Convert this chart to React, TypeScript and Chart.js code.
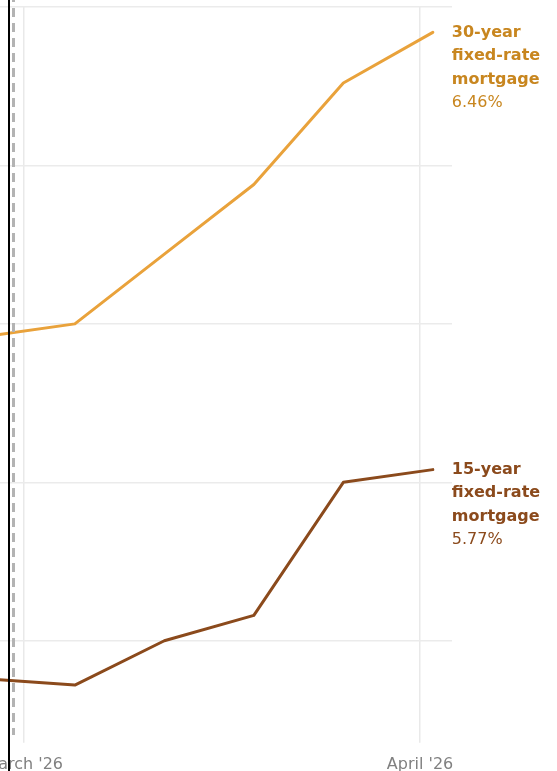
import React, { useEffect, useRef } from "react";
import { Chart, registerables } from "chart.js";

Chart.register(...registerables);

// Weekly survey dates (day number counted so that March 1 = 1)
const weekLabels = ["Feb 26", "Mar 5", "Mar 12", "Mar 19", "Mar 26", "Apr 2"];
const weekDay = [-2, 5, 12, 19, 26, 33];
const rate30 = [5.98, 6.0, 6.11, 6.22, 6.38, 6.46];
const rate15 = [5.44, 5.43, 5.5, 5.54, 5.75, 5.77];

const xTickDays = [1, 32];
const xTickLabels = ["March '26", "April '26"];
const yTickValues = [5.5, 5.75, 6.0, 6.25, 6.5];

const label30 = ["30-year", "fixed-rate", "mortgage"];
const label15 = ["15-year", "fixed-rate", "mortgage"];

const COLOR30 = "#E9A23B";
const TEXT30 = "#C8861F";
const COLOR15 = "#8B4A1C";
const TEXT15 = "#8B4A1C";
const FONT = "'DejaVu Sans', sans-serif";

const endLabels = {
  id: "endLabels",
  afterDatasetsDraw(chart: any) {
    const ctx = chart.ctx;
    chart.data.datasets.forEach((ds: any, i: number) => {
      const meta = chart.getDatasetMeta(i);
      const pts = meta.data;
      const last = pts[pts.length - 1];
      const val = ds.data[ds.data.length - 1].y;
      const x = last.x + 19;
      let y = last.y;
      ctx.save();
      ctx.fillStyle = ds.textColor;
      ctx.textAlign = "left";
      ctx.textBaseline = "middle";
      ctx.font = `700 16px ${FONT}`;
      (ds.endLines as string[]).forEach((t) => {
        ctx.fillText(t, x, y);
        y += 23.5;
      });
      ctx.font = `400 16px ${FONT}`;
      ctx.fillText(val.toFixed(2) + "%", x, y);
      ctx.restore();
    });
  },
};

export default function App() {
  const ref = useRef<HTMLCanvasElement>(null);

  useEffect(() => {
    if (!ref.current) return;
    const chart = new Chart(ref.current, {
      type: "line",
      data: {
        labels: weekLabels,
        datasets: [
          {
            label: "30-year fixed-rate mortgage",
            data: weekDay.map((d, i) => ({ x: d, y: rate30[i] })),
            borderColor: COLOR30,
            borderWidth: 3,
            pointRadius: 0,
            tension: 0,
            borderJoinStyle: "round",
            borderCapStyle: "round",
            textColor: TEXT30,
            endLines: label30,
          } as any,
          {
            label: "15-year fixed-rate mortgage",
            data: weekDay.map((d, i) => ({ x: d, y: rate15[i] })),
            borderColor: COLOR15,
            borderWidth: 3,
            pointRadius: 0,
            tension: 0,
            borderJoinStyle: "round",
            borderCapStyle: "round",
            textColor: TEXT15,
            endLines: label15,
          } as any,
        ],
      },
      options: {
        animation: false,
        responsive: true,
        maintainAspectRatio: false,
        layout: { padding: { left: 6, right: 105, top: 7, bottom: 0 } },
        plugins: { legend: { display: false }, tooltip: { enabled: false } },
        scales: {
          x: {
            type: "linear",
            min: -5,
            max: 34.5,
            afterBuildTicks: (axis: any) => {
              axis.ticks = xTickDays.map((v) => ({ value: v }));
            },
            ticks: {
              autoSkip: false,
              maxRotation: 0,
              padding: 12,
              color: "#808080",
              font: { family: FONT, size: 16 },
              callback: (v: any) => xTickLabels[xTickDays.indexOf(Number(v))] ?? "",
            },
            grid: { color: "#e9e9e9", lineWidth: 1.5, tickLength: 7, drawOnChartArea: true },
            border: { display: false },
          },
          y: {
            type: "linear",
            min: 5.35,
            max: 6.5,
            afterBuildTicks: (axis: any) => {
              axis.ticks = yTickValues.map((v) => ({ value: v }));
            },
            ticks: { display: false },
            grid: { color: "#ebebeb", lineWidth: 1.5, drawTicks: false },
            border: { display: false },
          },
        },
      },
      plugins: [endLabels],
    });
    return () => chart.destroy();
  }, []);

  return (
    <div
      style={{
        position: "absolute",
        left: 0,
        top: 0,
        width: 557,
        height: 771,
        overflow: "hidden",
        background: "#fff",
      }}
    >
      <div style={{ position: "absolute", left: -59, top: 0, width: 616, height: 786 }}>
        <canvas ref={ref} />
      </div>
      <div
        style={{
          position: "absolute",
          left: 12,
          top: 0,
          width: 3,
          height: 735,
          backgroundImage: "repeating-linear-gradient(to bottom, #b3b3b3 0px, #b3b3b3 9px, transparent 9px, transparent 15px)",
          backgroundPosition: "0 8px",
        }}
      />
      <div style={{ position: "absolute", left: 8, top: 0, width: 2, height: 771, background: "#000" }} />
    </div>
  );
}
